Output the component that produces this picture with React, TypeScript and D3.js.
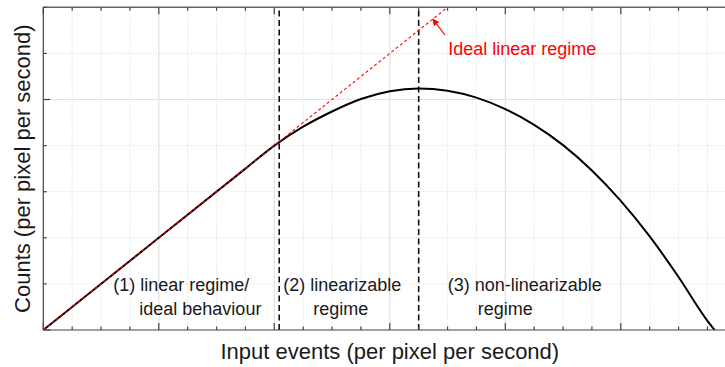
import React from "react";
import * as d3 from "d3";

// Response curve, in grid units
const curveX = [0, 4, 7, 8, 9, 10, 11, 12, 13, 14, 15, 16, 17, 18, 19, 20, 21, 22, 23, 23.25];
const curveY = [0, 2, 3.5, 4, 4.41, 4.74, 5.01, 5.18, 5.24, 5.19, 5.04, 4.79, 4.45, 4.01, 3.46, 2.8, 2.03, 1.15, 0.2, 0];

// Ideal linear regime line (start, end)
const idealX = [0, 14];
const idealY = [0, 7];

// Regime boundaries
const boundaries = [8.17, 13.0];

// Axis extents / ticks
const xDomain = [0, 24];
const yDomain = [0, 7];
const xMajorStep = 4;
const yMajorStep = 5;

const xLabel = "Input events (per pixel per second)";
const yLabel = "Counts (per pixel per second)";
const idealLabel = "Ideal linear regime";
const regionLabels = [
  ["(1) linear regime/", "ideal behaviour"],
  ["(2) linearizable", "regime"],
  ["(3) non-linearizable", "regime"],
];

const W = 725;
const H = 367;
const FONT = "'Liberation Sans', Arial, Helvetica, sans-serif";

export default function App() {
  const left = 43.3;
  const right = 736.3;
  const top = 7.3;
  const bottom = 330;

  const x = d3.scaleLinear().domain(xDomain).range([left, right]);
  const y = d3.scaleLinear().domain(yDomain).range([bottom, top]);

  const xTicks = d3.range(xDomain[0], xDomain[1] + 1, 1);
  const yTicks = d3.range(yDomain[0], yDomain[1] + 1, 1);

  const pts: [number, number][] = curveX.map((v, i) => [v, curveY[i]]);
  const line = d3
    .line<[number, number]>()
    .x((d) => x(d[0]))
    .y((d) => y(d[1]))
    .curve(d3.curveMonotoneX);

  const idealPts: [number, number][] = idealX.map((v, i) => [v, idealY[i]]);
  const straight = d3
    .line<[number, number]>()
    .x((d) => x(d[0]))
    .y((d) => y(d[1]));

  // arrow pointing at the ideal line
  const headT = 13.49;
  const head: [number, number] = [x(headT), y(headT * 0.5)];
  const tail: [number, number] = [445, 35];

  const labelPos = [
    [113.3, 139.3],
    [283.3, 313.3],
    [447.7, 477.7],
  ];

  return (
    <svg
      width={W}
      height={H}
      style={{ position: "absolute", left: 0, top: 0, background: "#fff" }}
      fontFamily={FONT}
    >
      <defs>
        <clipPath id="plot">
          <rect x={left} y={top} width={right - left} height={bottom - top} />
        </clipPath>
        <marker
          id="arrow"
          viewBox="0 0 10 10"
          refX="9"
          refY="5"
          markerWidth="7"
          markerHeight="7"
          orient="auto"
          markerUnits="userSpaceOnUse"
        >
          <path d="M0,0 L10,5 L0,10 z" fill="#ff0000" />
        </marker>
      </defs>
      <rect x={0} y={0} width={W} height={H} fill="#fff" />

      {/* grid */}
      <g>
        {xTicks
          .filter((t) => t > xDomain[0] && t < xDomain[1])
          .map((t) => {
            const major = t % xMajorStep === 0;
            return (
              <line
                key={"gx" + t}
                x1={x(t)}
                x2={x(t)}
                y1={y(yDomain[0])}
                y2={y(yDomain[1])}
                stroke={major ? "#e2e2e2" : "#d6d6d6"}
                strokeWidth={major ? 1.2 : 0.8}
                strokeDasharray={major ? undefined : "1,1.5"}
              />
            );
          })}
        {yTicks
          .filter((t) => t > yDomain[0] && t < yDomain[1])
          .map((t) => {
            const major = t % yMajorStep === 0;
            return (
              <line
                key={"gy" + t}
                x1={x(xDomain[0])}
                x2={x(xDomain[1])}
                y1={y(t)}
                y2={y(t)}
                stroke={major ? "#e2e2e2" : "#d6d6d6"}
                strokeWidth={major ? 1.2 : 0.8}
                strokeDasharray={major ? undefined : "1,1.5"}
              />
            );
          })}
      </g>

      {/* boundaries */}
      {boundaries.map((b) => (
        <line
          key={"b" + b}
          x1={x(b)}
          x2={x(b)}
          y1={y(yDomain[0])}
          y2={y(yDomain[1])}
          stroke="#111"
          strokeWidth={1.6}
          strokeDasharray="6,3.5"
        />
      ))}

      {/* curves */}
      <g clipPath="url(#plot)">
        <path d={line(pts) || ""} fill="none" stroke="#000" strokeWidth={2} />
        <path
          d={straight(idealPts) || ""}
          fill="none"
          stroke="#ff0000"
          strokeWidth={1.1}
          strokeDasharray="3,2.5"
        />
      </g>

      {/* arrow and label */}
      <line
        x1={tail[0]}
        y1={tail[1]}
        x2={head[0]}
        y2={head[1]}
        stroke="#ff0000"
        strokeWidth={1.2}
        markerEnd="url(#arrow)"
      />
      <text x={448.3} y={55} fontSize={18} fill="#ff0000">
        {idealLabel}
      </text>

      {/* region labels */}
      {regionLabels.map((lines, i) => (
        <g key={"r" + i}>
          {lines.map((l, j) => (
            <text key={j} x={labelPos[i][j]} y={j === 0 ? 291 : 315} fontSize={18} fill="#1a1a1a">
              {l}
            </text>
          ))}
        </g>
      ))}

      {/* axes */}
      <g stroke="#444" strokeWidth={1.2} fill="none">
        <line x1={left} x2={right} y1={bottom} y2={bottom} />
        <line x1={left} x2={right} y1={top} y2={top} stroke="#666" strokeWidth={1.6} />
        <line x1={left} x2={left} y1={top} y2={bottom} />
        {xTicks.map((t) => {
          const len = t % xMajorStep === 0 ? 7 : 3.5;
          return (
            <g key={"tx" + t}>
              <line x1={x(t)} x2={x(t)} y1={bottom} y2={bottom - len} />
              <line x1={x(t)} x2={x(t)} y1={top} y2={top + len} />
            </g>
          );
        })}
        {yTicks.map((t) => {
          const len = t % yMajorStep === 0 ? 7 : 3.5;
          return <line key={"ty" + t} x1={left} x2={left + len} y1={y(t)} y2={y(t)} />;
        })}
      </g>

      {/* axis labels */}
      <text
        x={(left + right) / 2}
        y={358.5}
        fontSize={22}
        textAnchor="middle"
        fill="#1a1a1a"
      >
        {xLabel}
      </text>
      <text
        transform={`translate(29.5, ${(top + bottom) / 2}) rotate(-90)`}
        fontSize={22}
        textAnchor="middle"
        fill="#1a1a1a"
      >
        {yLabel}
      </text>
    </svg>
  );
}
